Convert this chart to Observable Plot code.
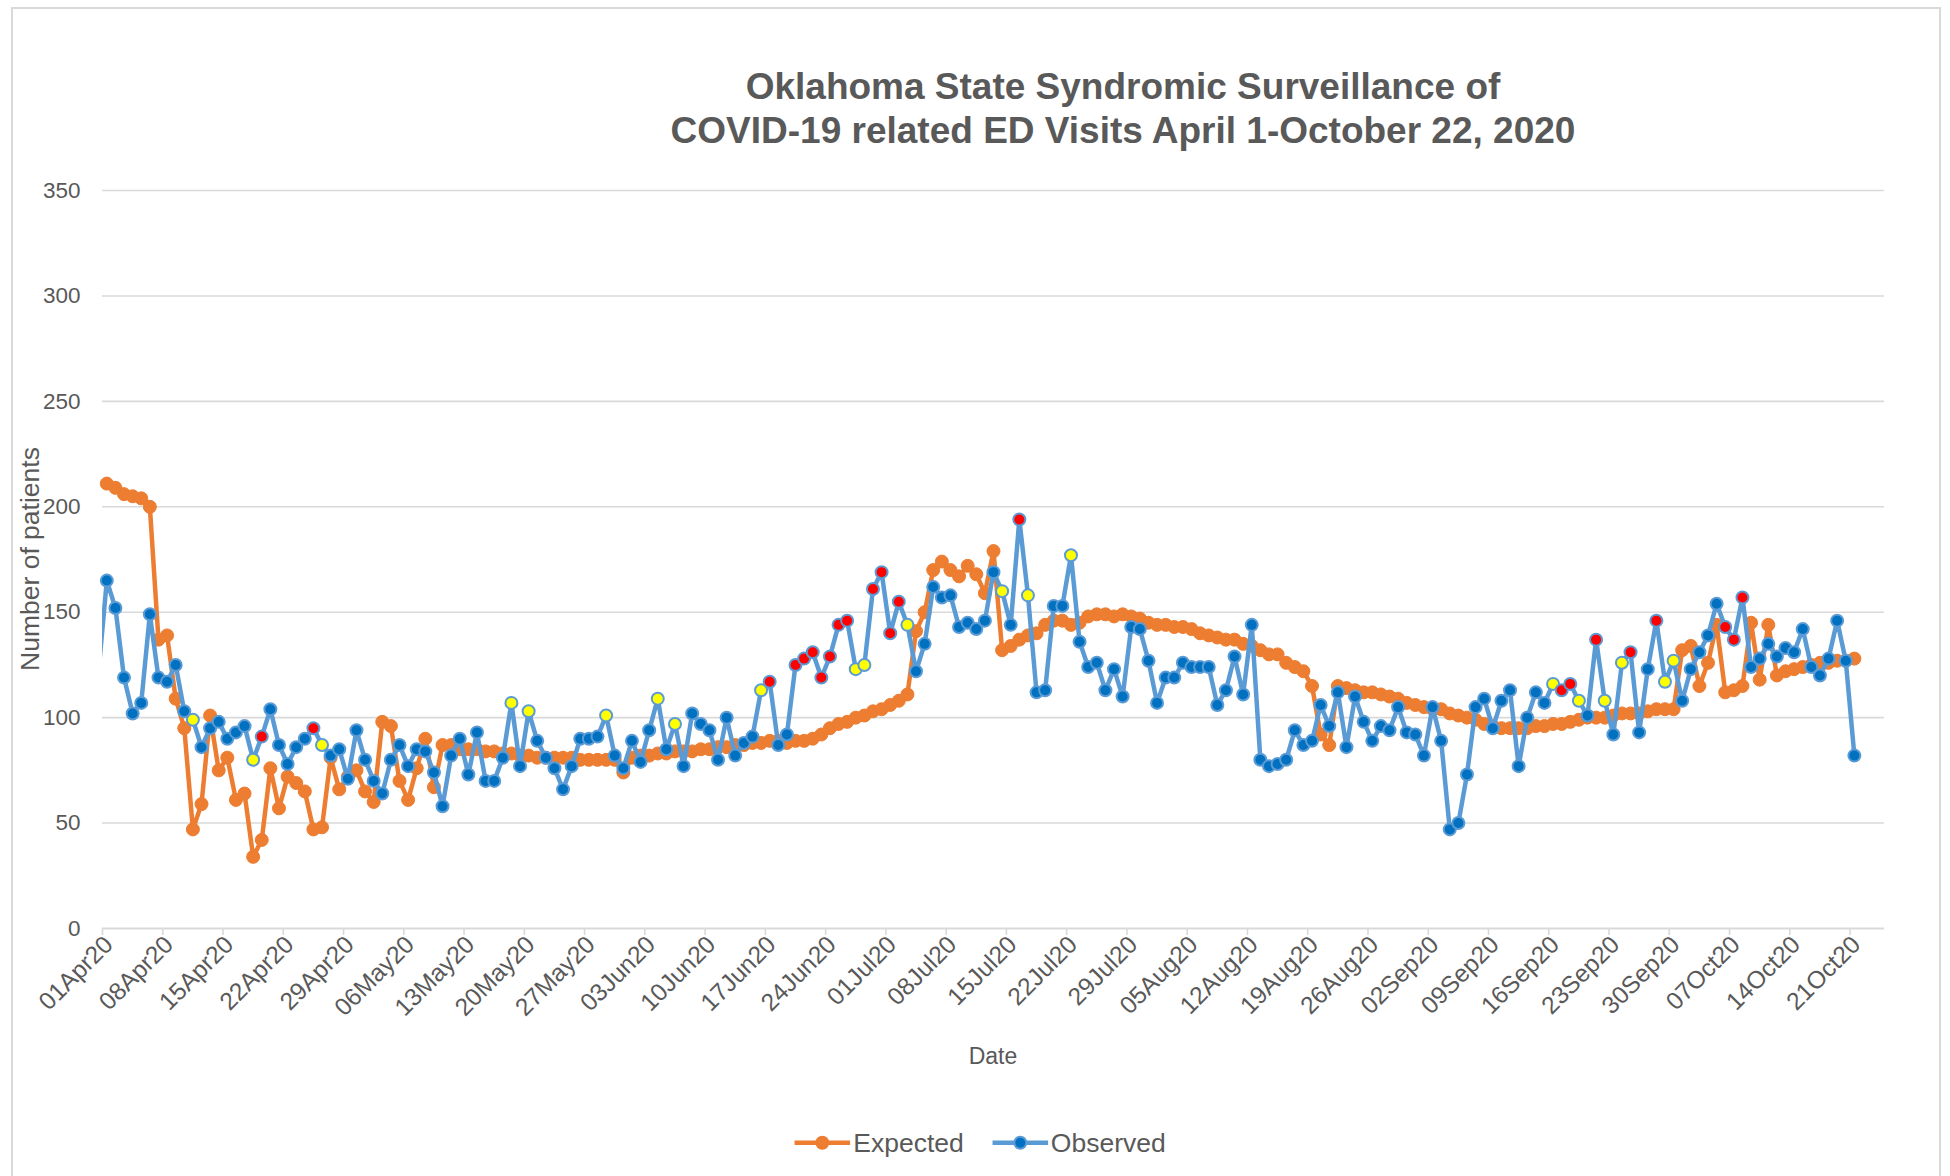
<!DOCTYPE html>
<html>
<head>
<meta charset="utf-8">
<script src="https://cdn.jsdelivr.net/npm/d3@7"></script>
<script src="https://cdn.jsdelivr.net/npm/@observablehq/plot@0.6"></script>
<style>
  html, body { margin: 0; padding: 0; background: #fff; }
  body { width: 1950px; height: 1176px; position: relative; overflow: hidden;
         font-family: "Liberation Sans", Arial, sans-serif; color: #595959; }
  #frame { position: absolute; left: 11px; top: 7px; width: 1930px; height: 1220px;
           border: 2px solid #d9d9d9; box-sizing: border-box; }
  #chart { position: absolute; left: 0; top: 0; }
  .title { position: absolute; left: 1123px; transform: translateX(-50%); white-space: nowrap;
           font-size: 37px; line-height: 37px; font-weight: bold; color: #595959; }
  #ylabel { position: absolute; left: 30px; top: 559px; transform: translate(-50%, -50%) rotate(-90deg);
            white-space: nowrap; font-size: 26.5px; line-height: 26.5px; color: #595959; }
  #xlabel { position: absolute; left: 993px; top: 1056px; transform: translate(-50%, -50%);
            font-size: 23px; line-height: 23px; color: #595959; }
  #legend { position: absolute; left: 980px; top: 1143px; transform: translate(-50%, -50%);
            display: flex; align-items: center; white-space: nowrap; font-size: 26.5px; line-height: 26.5px; color: #595959; }
  #legend .item { display: flex; align-items: center; margin: 0 14px; }
  #legend svg { margin-right: 3px; }
</style>
</head>
<body>
<div id="frame"></div>
<div id="chart"></div>
<div class="title" style="top:68px">Oklahoma State Syndromic Surveillance of</div>
<div class="title" style="top:112px">COVID-19 related ED Visits April 1-October 22, 2020</div>
<div id="ylabel">Number of patients</div>
<div id="xlabel">Date</div>
<div id="legend"></div>
<script>
// ---- data (daily, starting 01Apr20) ----
const startDay = "2020-04-01";

const expected = [
  211, 209, 206, 205, 204, 200, 137, 139, 109, 95,
  47, 59, 101, 75, 81, 61, 64, 34, 42, 76,
  57, 72, 69, 65, 47, 48, 81, 66, 72, 75,
  65, 60, 98, 96, 70, 61, 76, 90, 67, 87,
  87, 85, 85, 85, 84, 84, 83, 83, 82, 82,
  81, 81, 81, 81, 81, 80, 80, 80, 80, 80,
  74, 81, 82, 82, 83, 83, 84, 84, 84, 85,
  85, 86, 86, 87, 87, 88, 88, 89, 89, 88,
  89, 89, 90, 92, 95, 97, 98, 100, 101, 103,
  104, 106, 108, 111, 141, 150, 170, 174, 170, 167,
  172, 168, 159, 179, 132, 134, 137, 139, 140, 144,
  146, 146, 144, 145, 148, 149, 149, 148, 149, 148,
  147, 145, 144, 144, 143, 143, 142, 140, 139, 138,
  137, 137, 135, 134, 132, 130, 130, 126, 124, 122,
  115, 92, 87, 115, 114, 113, 112, 112, 111, 110,
  109, 107, 106, 105, 104, 104, 102, 101, 100, 99,
  97, 96, 95, 95, 95, 95, 96, 96, 97, 97,
  98, 99, 100, 100, 100, 101, 102, 102, 102, 103,
  104, 104, 104, 132, 134, 115, 126, 144, 112, 113,
  115, 145, 118, 144, 120, 122, 123, 124, 125, 126,
  126, 127, 127, 128
];

const observed = [
  165, 152, 119, 102, 107, 149, 119, 117, 125, 103,
  99, 86, 95, 98, 90, 93, 96, 80, 91, 104,
  87, 78, 86, 90, 95, 87, 82, 85, 71, 94,
  80, 70, 64, 80, 87, 77, 85, 84, 74, 58,
  82, 90, 73, 93, 70, 70, 81, 107, 77, 103,
  89, 81, 76, 66, 77, 90, 90, 91, 101, 82,
  76, 89, 79, 94, 109, 85, 97, 77, 102, 97,
  94, 80, 100, 82, 88, 91, 113, 117, 87, 92,
  125, 128, 131, 119, 129, 144, 146, 123, 125, 161,
  169, 140, 155, 144, 122, 135, 162, 157, 158, 143,
  145, 142, 146, 169, 160, 144, 194, 158, 112, 113,
  153, 153, 177, 136, 124, 126, 113, 123, 110, 143,
  142, 127, 107, 119, 119, 126, 124, 124, 124, 106,
  113, 129, 111, 144, 80, 77, 78, 80, 94, 87,
  89, 106, 96, 112, 86, 110, 98, 89, 96, 94,
  105, 93, 92, 82, 105, 89, 47, 50, 73, 105,
  109, 95, 108, 113, 77, 100, 112, 107, 116, 113,
  116, 108, 101, 137, 108, 92, 126, 131, 93, 123,
  146, 117, 127, 108, 123, 131, 139, 154, 143, 137,
  157, 124, 128, 135, 129, 133, 131, 142, 124, 120,
  128, 146, 127, 82
];

// observed value of the day before the axis starts (line enters from the left edge)
const observedBefore = [120];

// day indices (from 01Apr20) whose observed marker is flagged
const yellowFlags = [10, 17, 25, 47, 49, 58, 64, 66, 76, 87, 88, 93, 104, 107, 112, 168, 171, 174, 176, 181, 182];
const redFlags = [18, 24, 77, 80, 81, 82, 83, 84, 85, 86, 89, 90, 91, 92, 106, 169, 170, 173, 177, 180, 188, 189, 190];

const yTicks = [0, 50, 100, 150, 200, 250, 300, 350];
const xTickLabels = ["01Apr20", "08Apr20", "15Apr20", "22Apr20", "29Apr20", "06May20", "13May20", "20May20",
  "27May20", "03Jun20", "10Jun20", "17Jun20", "24Jun20", "01Jul20", "08Jul20", "15Jul20", "22Jul20",
  "29Jul20", "05Aug20", "12Aug20", "19Aug20", "26Aug20", "02Sep20", "09Sep20", "16Sep20", "23Sep20",
  "30Sep20", "07Oct20", "14Oct20", "21Oct20"];

// ---- build ----
const ORANGE = "#ed7d31", BLUE_LINE = "#5b9bd5", BLUE_FILL = "#0070c0";
const t0 = d3.utcParse("%Y-%m-%d")(startDay);
const half = d => d3.utcHour.offset(d, -12);
const parseTick = d3.utcParse("%d%b%y");
const fmt = d3.utcFormat("%d%b%y");

const rows = observed.map((v, i) => ({
  date: d3.utcDay.offset(t0, i),
  obs: v,
  exp: expected[i],
  fill: yellowFlags.includes(i) ? "#ffff00" : redFlags.includes(i) ? "#ff0000" : BLUE_FILL
}));
const obsLine = observedBefore.map((v, i) => ({date: d3.utcDay.offset(t0, i - observedBefore.length), obs: v}))
  .concat(rows);

const tickDates = xTickLabels.map(s => parseTick(s));

const chart = Plot.plot({
  width: 1950,
  height: 1176,
  marginLeft: 102,
  marginRight: 66,
  marginTop: 190,
  marginBottom: 248,
  style: {fontFamily: "'Liberation Sans', Arial, sans-serif", fontSize: "22px", color: "#595959", background: "transparent", overflow: "visible"},
  x: {type: "utc", domain: [half(t0), half(d3.utcDay.offset(t0, 207))]},
  y: {domain: [0, 350]},
  color: {type: "identity"},
  marks: [
    Plot.gridY(yTicks.filter(v => v > 0), {stroke: "#d9d9d9", strokeOpacity: 1, strokeWidth: 1.6}),
    Plot.ruleY([0], {stroke: "#d9d9d9", strokeWidth: 2}),
    Plot.axisY(yTicks, {tickSize: 0, tickPadding: 22, fontSize: 22.5, label: null, fill: "#595959"}),
    // tick marks sit on day boundaries (no text)
    Plot.axisX(tickDates.map(half), {tickSize: 7, stroke: "#d9d9d9", strokeWidth: 1.6, strokeOpacity: 1,
      tickFormat: () => "", label: null}),
    // tick labels
    Plot.axisX(tickDates, {
      tickSize: 0, tickRotate: -45, tickPadding: 12, dx: 2,
      tickFormat: d => fmt(d), fontSize: 24.5, label: null, fill: "#595959"
    }),
    Plot.line(rows, {x: "date", y: "exp", stroke: ORANGE, strokeWidth: 4.5, strokeLinejoin: "round"}),
    Plot.dot(rows, {x: "date", y: "exp", r: 6.5, fill: ORANGE, stroke: ORANGE, strokeWidth: 1}),
    Plot.line(obsLine, {x: "date", y: "obs", stroke: BLUE_LINE, strokeWidth: 4.5, strokeLinejoin: "round", clip: true}),
    Plot.dot(rows, {x: "date", y: "obs", r: 6, fill: "fill", stroke: BLUE_LINE, strokeWidth: 2})
  ]
});
document.getElementById("chart").appendChild(chart);

// ---- legend ----
const legendItems = [
  {label: "Expected", line: ORANGE, fill: ORANGE, stroke: ORANGE},
  {label: "Observed", line: BLUE_LINE, fill: BLUE_FILL, stroke: BLUE_LINE}
];
const legend = d3.select("#legend");
for (const it of legendItems) {
  const item = legend.append("div").attr("class", "item");
  const svg = item.append("svg").attr("width", 56).attr("height", 20);
  svg.append("line").attr("x1", 0).attr("x2", 56).attr("y1", 10).attr("y2", 10)
    .attr("stroke", it.line).attr("stroke-width", 4.5);
  svg.append("circle").attr("cx", 28).attr("cy", 10).attr("r", 6)
    .attr("fill", it.fill).attr("stroke", it.stroke).attr("stroke-width", 2);
  item.append("span").text(it.label);
}
</script>
</body>
</html>
